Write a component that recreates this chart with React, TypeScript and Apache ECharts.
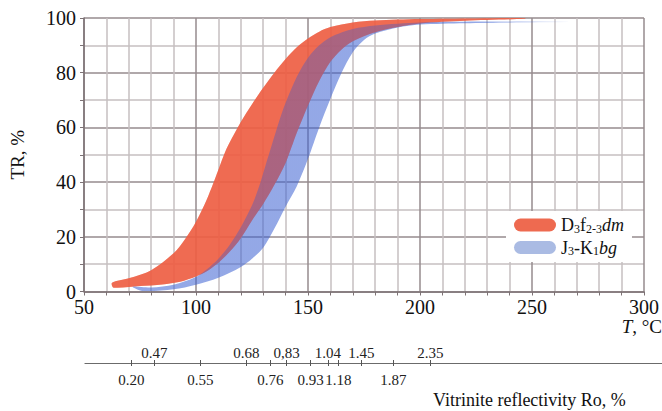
import React, { useEffect, useRef } from 'react';
import * as echarts from 'echarts';

const SERIF = 'Liberation Serif, DejaVu Serif, serif';

// Temperature (°C) vs transformation ratio TR (%) – band edges [T, TR]
const redUpper: [number, number][] = [
  [62.5, 3.2], [70, 4.8], [80, 7.8], [90, 14], [95, 19], [100, 25.5], [105, 34], [110, 44.5],
  [113, 51], [116, 56], [120, 62], [125, 68.5], [130, 74.5], [135, 80], [140, 85], [145, 89.3],
  [150, 92.5], [155, 95], [160, 96.7], [170, 98.4], [180, 99.1], [200, 99.6], [225, 99.85], [247, 99.95],
];
const redLower: [number, number][] = [
  [63.2, 1.4], [75, 2.0], [85, 2.6], [93, 3.6], [100, 5.5], [105, 7.5], [110, 10.5], [115, 14.5],
  [120, 19.5], [125, 26], [130, 32], [135, 39], [140, 47], [145, 58], [150, 68], [155, 77],
  [160, 84], [165, 88.5], [170, 91.5], [180, 94.8], [190, 96.7], [200, 98.0], [220, 99.0], [247, 99.7],
];
const blueUpper: [number, number][] = [
  [71.7, 1.8], [80, 1.5], [90, 2.5], [100, 5.3], [105, 8.2], [110, 12], [115, 17], [120, 23.5],
  [125, 31.5], [128, 38], [131, 46], [134, 54], [137, 62], [140, 69], [145, 78.5], [150, 85.5],
  [155, 90], [160, 93], [170, 96], [180, 97.3], [200, 98.4], [230, 98.7], [266, 98.8],
];
const blueLower: [number, number][] = [
  [76, 0.2], [90, 0.8], [100, 2.5], [110, 5], [120, 9], [125, 12], [130, 16], [135, 23],
  [140, 31], [145, 38.5], [150, 48.5], [155, 60], [160, 70.5], [165, 80], [170, 87.5], [175, 92],
  [180, 94.3], [190, 96.5], [200, 97.6], [220, 98.1], [240, 98.3], [266, 98.5],
];

const seriesNames = ['D3f2-3dm', 'J3-K1bg'];
const legendRich: Record<string, string> = {
  'D3f2-3dm': '{n|D}{s|3}{n|f}{s|2-3}{i|dm}',
  'J3-K1bg': '{n|J}{s|3}{n|-K}{s|1}{i|bg}',
};

// Vitrinite reflectivity scale (Ro, %) and the temperatures they sit at
const roLabelsAbove = ['0.47', '0.68', '0,83', '1.04', '1.45', '2.35'];
const roTempsAbove = [81, 121, 138.5, 156.5, 171, 201];
const roLabelsBelow = ['0.20', '0.55', '0.76', '0.93', '1.18', '1.87'];
const roTempsBelow = [71, 101, 131.5, 149, 161, 185];

const xTickLabels = [50, 100, 150, 200, 250, 300];
const yTickLabels = [0, 20, 40, 60, 80, 100];

const PILL = 'path://M6.5,0H35.5A6.5,6.5,0,0,1,35.5,13H6.5A6.5,6.5,0,0,1,6.5,0Z';

function bandPoints(upper: [number, number][], lower: [number, number][], api: any) {
  const pts = [...upper, ...lower.slice().reverse()];
  return pts.map((p) => api.coord(p));
}

export default function App() {
  const ref = useRef<HTMLDivElement>(null);
  useEffect(() => {
    if (!ref.current) return;
    const chart = echarts.init(ref.current, null, { renderer: 'svg' });
    const axisColor = '#7d7275';
    const roAll = [...roTempsAbove, ...roTempsBelow];
    const option: any = {
      animation: false,
      backgroundColor: '#fff',
      textStyle: { fontFamily: SERIF },
      grid: [
        { left: 83, top: 18, width: 575, height: 273.5 },
        { left: 85, top: 363, width: 577, height: 0 },
      ],
      xAxis: [
        {
          gridIndex: 0, type: 'value', min: 50, max: 300, interval: 10,
          axisLine: { show: true, lineStyle: { color: axisColor, width: 1.5 } },
          axisTick: { show: true, length: 4, lineStyle: { color: axisColor } },
          axisLabel: {
            fontSize: 20, color: '#111', margin: 5, fontFamily: SERIF,
            formatter: (v: number) => (xTickLabels.includes(v) ? String(v) : ''),
          },
          splitLine: {
            show: true,
            lineStyle: { color: ['#968b8e', '#c6bfc1', '#c6bfc1', '#c6bfc1', '#c6bfc1'], width: 1.5 },
          },
        },
        {
          gridIndex: 1, type: 'value', min: 50.87, max: 301.74, position: 'top',
          axisLine: { show: true, lineStyle: { color: '#6b6b6b', width: 1.2 } },
          axisTick: { show: true, length: 3, customValues: roAll, lineStyle: { color: '#555' } },
          axisLabel: {
            show: true, customValues: roTempsAbove, fontSize: 15, margin: 3, color: '#222', fontFamily: SERIF,
            formatter: (v: number) => roLabelsAbove[roTempsAbove.indexOf(v)] ?? '',
          },
          splitLine: { show: false },
        },
        {
          gridIndex: 1, type: 'value', min: 50.87, max: 301.74, position: 'bottom',
          axisLine: { show: false },
          axisTick: { show: true, length: 3, customValues: roAll, lineStyle: { color: '#555' } },
          axisLabel: {
            show: true, customValues: roTempsBelow, fontSize: 15, margin: 9, color: '#222', fontFamily: SERIF,
            formatter: (v: number) => roLabelsBelow[roTempsBelow.indexOf(v)] ?? '',
          },
          splitLine: { show: false },
        },
      ],
      yAxis: [
        {
          gridIndex: 0, type: 'value', min: 0, max: 100, interval: 10,
          name: 'TR, %', nameLocation: 'middle', nameGap: 57, nameRotate: 90,
          nameTextStyle: { fontSize: 19, color: '#111', fontFamily: SERIF },
          axisLine: { show: true, lineStyle: { color: axisColor, width: 1.5 } },
          axisTick: { show: true, length: 4, lineStyle: { color: axisColor } },
          axisLabel: {
            fontSize: 20, color: '#111', margin: 8, fontFamily: SERIF,
            formatter: (v: number) => (yTickLabels.includes(v) ? String(v) : ''),
          },
          splitLine: { show: true, lineStyle: { color: ['#968b8e', '#c6bfc1'], width: 1.5 } },
        },
        { gridIndex: 1, type: 'value', show: false },
      ],
      legend: {
        data: seriesNames,
        orient: 'vertical', left: 506, top: 211,
        backgroundColor: '#fff', padding: [5, 8, 5, 8], itemGap: 4,
        itemWidth: 42, itemHeight: 13, icon: PILL,
        formatter: (name: string) => legendRich[name],
        textStyle: {
          fontFamily: SERIF, fontSize: 18, color: '#111',
          rich: {
            n: { fontFamily: SERIF, fontSize: 18, color: '#111' },
            s: { fontFamily: SERIF, fontSize: 12, color: '#111', verticalAlign: 'bottom', padding: [7, 0, 0, 0] },
            i: { fontFamily: SERIF, fontSize: 18, fontStyle: 'italic', color: '#111' },
          },
        },
      },
      graphic: [
        {
          type: 'text', right: 0, top: 317,
          style: {
            text: '{i|T}, °C', fontFamily: SERIF, fontSize: 19, fill: '#111',
            rich: { i: { fontFamily: SERIF, fontSize: 19, fontStyle: 'italic' } },
          },
        },
        {
          type: 'text', left: 433, top: 391,
          style: { text: 'Vitrinite reflectivity Ro, %', fontFamily: SERIF, fontSize: 18, fill: '#111' },
        },
      ],
      series: [
        {
          type: 'custom', name: seriesNames[0], coordinateSystem: 'cartesian2d', xAxisIndex: 0, yAxisIndex: 0,
          itemStyle: { color: '#ee6a50' }, clip: true, silent: true,
          data: [redUpper[0]],
          renderItem: (_p: any, api: any) => ({
            type: 'polygon',
            shape: { points: bandPoints(redUpper, redLower, api), smooth: 0.3 },
            style: { fill: 'rgba(238,93,66,0.88)' },
          }),
        },
        {
          type: 'custom', name: seriesNames[1], coordinateSystem: 'cartesian2d', xAxisIndex: 0, yAxisIndex: 0,
          itemStyle: { color: '#aabbe3' }, clip: true, silent: true,
          data: [blueUpper[0]],
          renderItem: (_p: any, api: any) => {
            const x0 = api.coord([225, 0])[0];
            const x1 = api.coord([268, 0])[0];
            const grad = new echarts.graphic.LinearGradient(x0, 0, x1, 0, [
              { offset: 0, color: 'rgba(60,97,210,0.55)' },
              { offset: 1, color: 'rgba(60,97,210,0)' },
            ], true);
            return {
              type: 'group',
              children: [
                { type: 'polygon', shape: { points: bandPoints(blueUpper, blueLower, api), smooth: 0.3 }, style: { fill: grad } },
                { type: 'polygon', shape: { points: bandPoints(redUpper, redLower, api), smooth: 0.3 }, style: { fill: 'rgba(238,93,66,0.3)' } },
              ],
            };
          },
        },
      ],
    };
    chart.setOption(option);
    return () => chart.dispose();
  }, []);
  return <div ref={ref} style={{ position: 'absolute', left: 0, top: 0, width: 662, height: 411 }} />;
}
